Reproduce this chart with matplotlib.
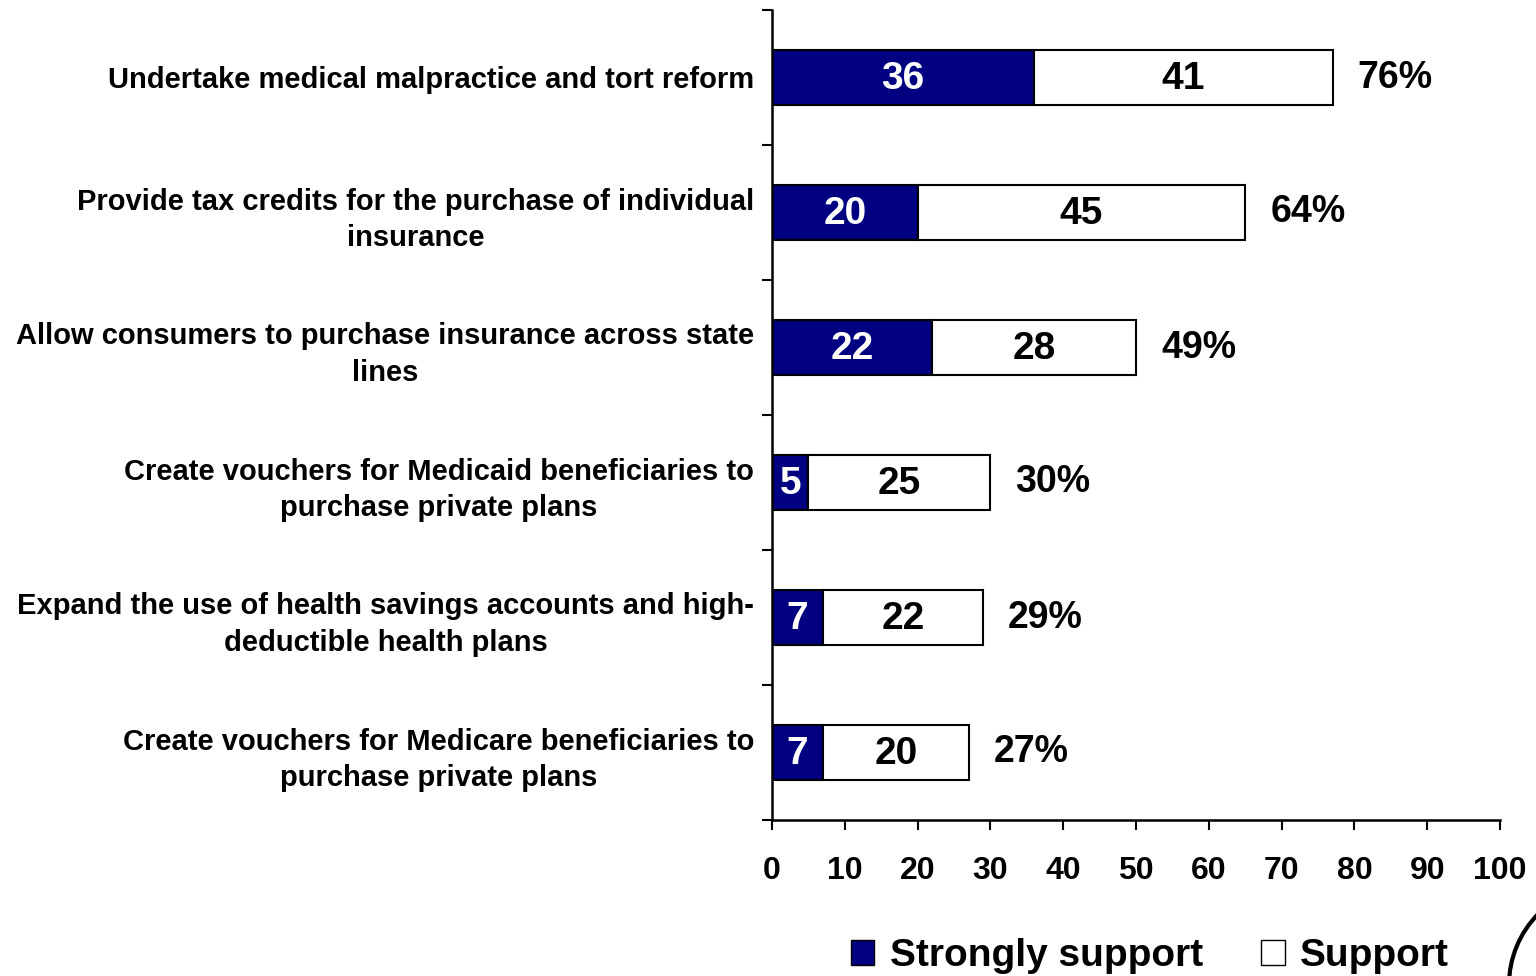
import matplotlib

matplotlib.use("Agg")
import matplotlib.pyplot as plt
import numpy as np
from matplotlib.patches import Arc, Patch

# Survey items, top to bottom
items = [
    "Undertake medical malpractice and tort reform",
    "Provide tax credits for the purchase of individual\ninsurance",
    "Allow consumers to purchase insurance across state\nlines",
    "Create vouchers for Medicaid beneficiaries to\npurchase private plans",
    "Expand the use of health savings accounts and high-\ndeductible health plans",
    "Create vouchers for Medicare beneficiaries to\npurchase private plans",
]
strongly_support = [36, 20, 22, 5, 7, 7]
support = [41, 45, 28, 25, 22, 20]
total_pct = [76, 64, 49, 30, 29, 27]

NAVY = "#000080"
plt.rcParams["font.family"] = ["Liberation Sans", "DejaVu Sans"]
plt.rcParams["font.weight"] = "bold"

fig = plt.figure(figsize=(15.36, 9.76), dpi=100)
ax = fig.add_axes([772 / 1536, 1 - 820 / 976, (1500 - 772) / 1536, (820 - 10) / 976])

y = np.arange(len(items))
bar_h = 0.41
ax.barh(y, strongly_support, height=bar_h, color=NAVY, edgecolor="black", linewidth=1.5)
ax.barh(y, support, left=strongly_support, height=bar_h, color="white",
        edgecolor="black", linewidth=1.5)

for i in range(len(items)):
    s, p = strongly_support[i], support[i]
    ax.text(s / 2, i + 0.01, str(s), ha="center", va="center", color="white",
            fontsize=28, fontweight="bold")
    ax.text(s + p / 2, i + 0.01, str(p), ha="center", va="center", color="black",
            fontsize=28, fontweight="bold")
    ax.annotate(f"{total_pct[i]}%", (s + p, i), xytext=(18, 0),
                textcoords="offset points", ha="left", va="center",
                fontsize=27, fontweight="bold")

ax.set_xlim(0, 100)
ax.set_ylim(len(items) - 0.5, -0.5)

ax.set_xticks(range(0, 101, 10))
ax.tick_params(axis="x", direction="out", length=7, width=1.5, pad=19, labelsize=23)
for lbl in ax.get_xticklabels():
    lbl.set_fontweight("bold")

# category labels sit at bar centres, separators as minor ticks
ax.set_yticks(y)
ax.set_yticklabels(items, fontsize=21, fontweight="bold", linespacing=1.38,
                   multialignment="center")
ax.tick_params(axis="y", which="major", length=0, pad=13)
ax.set_yticks(np.arange(-0.5, len(items), 1.0), minor=True)
ax.tick_params(axis="y", which="minor", direction="out", length=7, width=1.5)

for side in ["top", "right"]:
    ax.spines[side].set_visible(False)
for side in ["left", "bottom"]:
    ax.spines[side].set_linewidth(1.8)

handles = [
    Patch(facecolor=NAVY, edgecolor="black", linewidth=1, label="Strongly support"),
    Patch(facecolor="white", edgecolor="black", linewidth=1, label="Support"),
]
fig.legend(handles=handles, loc="center", bbox_to_anchor=(1150 / 1536, 1 - 956 / 976),
           ncol=2, frameon=False, prop={"size": 28, "weight": "bold"},
           handlelength=0.6, handleheight=0.6, handletextpad=0.4, columnspacing=1.5)

# corner of the round emblem at lower right
fig.add_artist(Arc((1610 / 1536, 1 - 985 / 976), 202 / 1536, 202 / 976,
                   transform=fig.transFigure, theta1=90, theta2=270,
                   linewidth=3, color="black"))

fig.savefig("out.png", dpi=100)
